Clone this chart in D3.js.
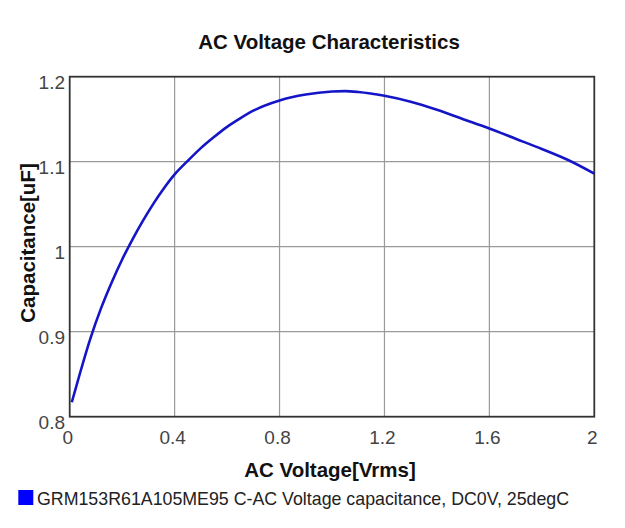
<!DOCTYPE html>
<html><head><meta charset="utf-8">
<script src="https://cdn.jsdelivr.net/npm/d3@7"></script>
<style>body{margin:0;background:#fff}svg{display:block}</style>
</head><body>
<script>
const title = "AC Voltage Characteristics";
const xLabel = "AC Voltage[Vrms]";
const yLabel = "Capacitance[uF]";
const legendLabel = "GRM153R61A105ME95 C-AC Voltage capacitance, DC0V, 25degC";
const xTicks = [0, 0.4, 0.8, 1.2, 1.6, 2];
const yTicks = [0.8, 0.9, 1, 1.1, 1.2];
const voltage = [0.008, 0.04, 0.08, 0.12, 0.16, 0.2, 0.24, 0.28, 0.32, 0.36, 0.4, 0.45, 0.5, 0.55, 0.6, 0.65, 0.7, 0.8, 0.9, 1.0, 1.05, 1.1, 1.2, 1.3, 1.4, 1.5, 1.6, 1.7, 1.8, 1.9, 2.0];
const capacitance = [0.817, 0.852, 0.893, 0.928, 0.958, 0.985, 1.009, 1.031, 1.051, 1.069, 1.085, 1.101, 1.116, 1.129, 1.141, 1.151, 1.160, 1.172, 1.179, 1.1825, 1.183, 1.182, 1.1775, 1.1705, 1.161, 1.150, 1.139, 1.127, 1.115, 1.102, 1.086];

const W = 625, H = 528;
const m = {left: 69.7, right: 594.3, top: 76.7, bottom: 416.7};
const svg = d3.select("body").append("svg").attr("width", W).attr("height", H);
const x = d3.scaleLinear().domain([0, 2]).range([m.left, m.right]);
const y = d3.scaleLinear().domain([0.8, 1.2]).range([m.bottom, m.top]);
const font = "Arial, 'Liberation Sans', sans-serif";

// gridlines
svg.append("g").selectAll("line").data(xTicks.slice(1, -1)).join("line")
  .attr("x1", d => x(d)).attr("x2", d => x(d)).attr("y1", m.top).attr("y2", m.bottom)
  .attr("stroke", "#9a9a9a").attr("stroke-width", 1.2);
svg.append("g").selectAll("line").data(yTicks.slice(1, -1)).join("line")
  .attr("y1", d => y(d)).attr("y2", d => y(d)).attr("x1", m.left).attr("x2", m.right)
  .attr("stroke", "#9a9a9a").attr("stroke-width", 1.2);

// frame
svg.append("rect").attr("x", m.left).attr("y", m.top)
  .attr("width", m.right - m.left).attr("height", m.bottom - m.top)
  .attr("fill", "none").attr("stroke", "#333").attr("stroke-width", 1.8);

// curve
const pts = voltage.map((v, i) => [v, capacitance[i]]);
svg.append("path").datum(pts)
  .attr("d", d3.line().x(d => x(d[0])).y(d => y(d[1])).curve(d3.curveMonotoneX))
  .attr("fill", "none").attr("stroke", "#1515c8").attr("stroke-width", 2.6);

// tick labels
svg.append("g").selectAll("text").data(yTicks).join("text")
  .attr("x", 65).attr("y", d => y(d) + 12)
  .attr("text-anchor", "end").attr("font-family", font).attr("font-size", 19)
  .attr("fill", "#444").text(d => d3.format("")(d));
svg.append("g").selectAll("text").data(xTicks).join("text")
  .attr("x", d => x(d) - 2).attr("y", 444)
  .attr("text-anchor", "middle").attr("font-family", font).attr("font-size", 19)
  .attr("fill", "#444").text(d => d3.format("")(d));

// titles
svg.append("text").attr("x", 329).attr("y", 49).attr("text-anchor", "middle")
  .attr("font-family", font).attr("font-size", 20.5).attr("font-weight", "bold")
  .attr("fill", "#111").text(title);
svg.append("text").attr("x", 330).attr("y", 477).attr("text-anchor", "middle")
  .attr("font-family", font).attr("font-size", 20.5).attr("font-weight", "bold")
  .attr("fill", "#111").text(xLabel);
svg.append("text").attr("transform", "translate(35,243) rotate(-90)").attr("text-anchor", "middle")
  .attr("font-family", font).attr("font-size", 20.5).attr("font-weight", "bold")
  .attr("fill", "#111").text(yLabel);

// legend
svg.append("rect").attr("x", 18.3).attr("y", 490).attr("width", 15).attr("height", 15).attr("fill", "#0000ff");
svg.append("text").attr("x", 37).attr("y", 504.5)
  .attr("font-family", font).attr("font-size", 17.8).attr("fill", "#222").text(legendLabel);
</script>
</body></html>
